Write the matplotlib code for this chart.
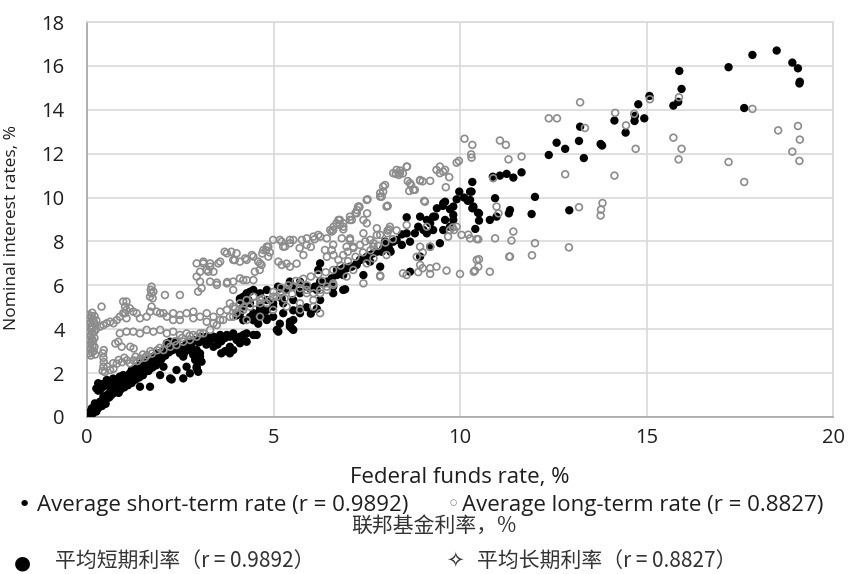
import numpy as np
import matplotlib
matplotlib.use('Agg')
import matplotlib.pyplot as plt

# (federal funds rate, average short-term rate)
short_rate = [
    (0.05, 0.1), (0.08, 0.17), (0.1, 0.25), (0.13, 0.4), (0.17, 0.32), (0.21, 0.62), (0.26, 0.47), (0.3, 0.55),
    (0.35, 0.7), (0.44, 0.93), (0.53, 1.0), (0.62, 1.15), (0.71, 1.08), (0.8, 1.31), (0.88, 1.38), (0.97, 1.54),
    (1.06, 1.69), (1.15, 1.61), (1.24, 1.84), (1.33, 1.99), (1.42, 2.14), (1.51, 2.22), (1.6, 2.37), (1.69, 2.45),
    (1.78, 2.6), (1.87, 2.75), (1.96, 2.9), (2.05, 3.05), (2.14, 3.2), (2.23, 3.28), (2.31, 3.36), (2.4, 3.43),
    (0.05, 0.2), (0.1, 0.1), (0.15, 0.15), (0.2, 0.3), (0.25, 0.25), (0.3, 0.4), (0.4, 0.5), (0.45, 0.75),
    (0.5, 0.6), (0.55, 0.85), (0.6, 0.9), (0.65, 1.0), (0.75, 1.2), (0.85, 1.1), (0.9, 1.25), (1.0, 1.35),
    (1.1, 1.45), (1.2, 1.55), (1.3, 1.7), (1.4, 1.8), (1.5, 1.9), (1.55, 2.05), (1.65, 2.1), (1.75, 2.25),
    (1.85, 2.35), (1.95, 2.5), (2.0, 2.65), (2.1, 2.8), (2.2, 2.95), (2.3, 3.05), (0.25, 1.3), (0.3, 1.2),
    (0.4, 1.5), (0.5, 1.45), (0.6, 1.6), (0.7, 1.75), (0.9, 1.7), (1.0, 1.8), (1.1, 1.9), (1.25, 2.05),
    (1.4, 2.3), (1.45, 2.45), (1.7, 2.55), (1.95, 2.75), (2.2, 3.05),
    (0.3, 1.54), (0.44, 1.38), (0.35, 1.23), (0.62, 1.46), (0.71, 1.61), (0.53, 1.69), (0.8, 1.69), (0.88, 1.84),
    (0.97, 1.91), (1.15, 1.99), (1.2, 2.14), (1.33, 2.22), (1.51, 2.52), (1.6, 2.6), (1.69, 2.67), (1.78, 2.75),
    (1.87, 2.9), (2.05, 2.98), (2.14, 3.13), (2.31, 3.2),
    (1.42, 1.38), (1.69, 1.38), (1.96, 1.91), (2.23, 1.76), (2.58, 1.76), (2.94, 2.29), (2.98, 2.06), (2.76, 1.99),
    (3.07, 2.52), (2.67, 2.29), (2.4, 2.14), (2.27, 1.71), (1.87, 2.45), (2.05, 2.29), (2.94, 2.22), (3.03, 2.75),
    (2.14, 3.36), (2.23, 3.43), (2.49, 3.2), (2.67, 3.36), (2.85, 3.51), (3.03, 3.59), (3.21, 3.66), (3.39, 3.59),
    (3.57, 3.66), (3.75, 3.74), (3.92, 3.81), (4.1, 3.66), (4.01, 3.51), (4.28, 3.81), (4.46, 3.74), (3.83, 3.2),
    (3.92, 3.05), (2.94, 3.05), (3.03, 2.9), (2.85, 2.83), (2.9, 2.6), (2.49, 2.9), (2.58, 2.75), (3.39, 3.2),
    (3.83, 2.9), (4.28, 3.43), (4.1, 3.36), (5.09, 3.97), (5.53, 3.97), (5.44, 4.12), (5.44, 4.34), (5.53, 4.42),
    (2.5, 3.0), (2.6, 3.1), (2.7, 3.2), (2.8, 3.3), (3.0, 3.4), (3.1, 3.5), (3.3, 3.5), (3.5, 3.55),
    (3.7, 3.6), (3.9, 3.7), (4.2, 3.75), (2.6, 2.9), (2.8, 3.0), (3.2, 3.3), (3.6, 3.45), (4.0, 3.6),
    (3.5, 3.3), (3.7, 3.0), (3.6, 2.9),
    (3.03, 3.66), (3.25, 3.58), (3.39, 3.66), (3.57, 3.74), (3.83, 3.66), (4.19, 3.66), (4.55, 3.74), (4.01, 4.63),
    (4.1, 4.71), (4.19, 4.41), (4.37, 4.56), (4.46, 4.41), (4.59, 4.25), (4.68, 4.71), (4.72, 4.87), (4.82, 5.33),
    (4.1, 5.4), (4.19, 5.33), (4.24, 5.48), (4.28, 5.56), (4.33, 5.33), (4.37, 5.71), (4.28, 5.64), (4.46, 5.79),
    (4.1, 5.33), (4.19, 5.03), (4.37, 5.18), (4.64, 5.03), (4.82, 4.88), (4.99, 5.18), (4.46, 4.73), (4.64, 4.57),
    (4.82, 4.5), (4.99, 4.57), (4.19, 5.48), (4.64, 5.64), (4.82, 5.79), (4.99, 5.03), (5.26, 5.18), (5.53, 5.33),
    (5.71, 5.64), (5.89, 5.94), (6.16, 5.79), (6.34, 6.09), (6.6, 5.94), (6.87, 5.79), (6.6, 5.64), (6.25, 5.33),
    (5.71, 4.73), (5.26, 4.73), (4.82, 4.42), (4.64, 4.88), (5.13, 3.89), (5.49, 4.04), (5.44, 4.2), (5.17, 4.25),
    (6.0, 4.71), (6.16, 4.93), (5.89, 5.0), (5.71, 4.93), (5.53, 4.86),
    (5.71, 6.17), (5.53, 5.94), (5.44, 6.17), (5.35, 5.79), (5.17, 5.86), (5.12, 5.94), (5.22, 5.4), (6.56, 6.32),
    (6.43, 6.17), (6.25, 6.17), (6.11, 5.94), (5.98, 5.86), (5.71, 5.71), (6.25, 7.0), (6.2, 6.7), (6.92, 5.82),
    (7.1, 6.85), (6.96, 6.78), (6.83, 6.7), (6.74, 6.62), (6.7, 6.47), (6.78, 6.7), (6.87, 6.47), (7.86, 6.85),
    (7.41, 6.47), (7.68, 7.46), (7.5, 7.3), (7.59, 7.08), (7.32, 7.15), (7.23, 7.0), (8.08, 7.76), (7.9, 7.53),
    (8.12, 7.6), (8.21, 7.99), (7.99, 7.99), (6.7, 6.7), (6.87, 6.78), (7.05, 6.85),
    (7.23, 6.93), (7.32, 7.16), (7.45, 7.23), (7.59, 7.38), (7.77, 7.53), (7.94, 7.69), (8.08, 7.84), (8.14, 7.53),
    (8.3, 8.07), (8.44, 7.84), (8.66, 7.99), (8.44, 8.32), (8.57, 8.37), (8.79, 8.37), (8.88, 8.67), (8.57, 9.1),
    (9.11, 8.98), (9.2, 8.83), (9.28, 8.52), (9.55, 8.52), (9.33, 9.13), (9.6, 8.98), (9.82, 9.21), (9.73, 9.47),
    (9.38, 9.51), (9.54, 9.62), (9.6, 9.81), (9.91, 9.92), (10.11, 10.0), (10.21, 9.85), (9.98, 10.27), (10.27, 10.27),
    (10.31, 10.27), (10.33, 10.71), (10.27, 9.89), (10.36, 9.59), (10.33, 9.51), (10.48, 9.31), (10.51, 9.28),
    (10.51, 8.95), (10.8, 8.98), (10.98, 9.13), (10.94, 9.97), (10.41, 8.57), (8.93, 7.31), (8.66, 6.62),
    (8.93, 9.13), (9.02, 8.52), (9.11, 8.37), (9.2, 7.76), (9.46, 7.92), (9.73, 8.67), (9.82, 8.98), (9.82, 9.59),
    (9.55, 9.74), (9.28, 9.13), (10.88, 10.95), (11.07, 11.0), (11.25, 11.08), (11.43, 10.91), (11.65, 11.15),
    (11.34, 9.43), (11.31, 9.28), (11.92, 9.25), (12.01, 10.03), (12.93, 9.42),
    (12.38, 11.94), (12.59, 12.5), (12.82, 12.22), (13.19, 12.58), (13.22, 13.23), (13.32, 11.8), (13.77, 12.44),
    (13.81, 12.37), (14.14, 13.51), (14.44, 12.96), (14.68, 13.49), (14.69, 13.72), (14.94, 13.61), (14.78, 14.25),
    (15.08, 14.63), (15.72, 14.19), (15.85, 14.36), (15.88, 15.77), (15.94, 14.95), (17.2, 15.94), (17.84, 16.5),
    (18.49, 16.7), (18.91, 16.15), (19.06, 15.89), (19.11, 15.28), (19.1, 15.2), (17.62, 14.08),
]

# (federal funds rate, average long-term rate)
long_rate = [
    (0.1, 2.8), (0.13, 2.95), (0.1, 3.1), (0.15, 3.25), (0.12, 3.4), (0.14, 3.55), (0.1, 3.7), (0.15, 3.85),
    (0.12, 4.0), (0.14, 4.15), (0.1, 4.3), (0.15, 4.45), (0.12, 4.6), (0.14, 4.75), (0.08, 3.3), (0.08, 4.1),
    (0.2, 3.9), (0.22, 4.2), (0.25, 4.4), (0.18, 3.0), (0.2, 4.6), (0.06, 2.9), (0.06, 3.5), (0.06, 3.9),
    (0.06, 4.5), (0.2, 3.2), (0.2, 3.6), (0.24, 4.0), (0.18, 4.35), (0.16, 3.45), (0.05, 4.65), (0.22, 2.85),
    (0.42, 2.1), (0.44, 2.3), (0.45, 2.5), (0.44, 2.7), (0.43, 2.9), (0.45, 3.05), (0.48, 2.05), (0.39, 5.03),
    (0.62, 2.14), (0.71, 2.2), (0.8, 2.43), (0.94, 2.5), (1.07, 2.58), (1.25, 2.58), (1.43, 2.66), (1.61, 2.81),
    (1.74, 2.89), (1.88, 3.04), (2.05, 3.05), (2.23, 3.2), (2.4, 3.28), (2.58, 3.43), (2.76, 3.51), (2.94, 3.66),
    (3.12, 3.81), (3.3, 3.97), (3.48, 4.19), (3.65, 4.42), (3.83, 4.57), (4.01, 4.73), (4.19, 4.88), (4.37, 5.03),
    (4.64, 5.18), (4.91, 5.33), (5.09, 5.48), (0.93, 3.2), (1.16, 3.2), (1.25, 3.12), (0.76, 3.35), (0.84, 3.43),
    (1.0, 2.7), (1.3, 2.75), (1.55, 2.7), (0.55, 2.3), (0.7, 2.45), (0.85, 2.6), (1.15, 2.45), (1.35, 2.55),
    (1.5, 2.85), (1.7, 3.0), (1.95, 3.15), (2.15, 3.35), (2.35, 3.45), (2.55, 3.6), (2.75, 3.7),
    (0.35, 4.12), (0.44, 4.19), (0.53, 4.27), (0.62, 4.34), (0.71, 4.27), (0.8, 4.42), (0.88, 4.57), (0.97, 4.73),
    (1.02, 5.03), (0.97, 5.26), (1.06, 4.88), (1.15, 4.95), (1.24, 4.8), (1.33, 4.73), (1.42, 4.5), (1.6, 4.57),
    (1.69, 4.8), (1.73, 5.03), (1.73, 5.64), (1.71, 5.79), (1.76, 5.41), (2.09, 5.56), (2.49, 5.56), (1.96, 4.73),
    (2.14, 4.57), (2.31, 4.42), (2.49, 4.65), (2.67, 4.73), (2.85, 4.5), (3.03, 4.57), (3.21, 4.34), (1.06, 5.26),
    (1.02, 4.73), (1.06, 4.5), (1.87, 4.8), (2.05, 4.73), (2.31, 4.73), (2.49, 4.42), (2.85, 4.8), (1.78, 5.71),
    (1.69, 5.48), (1.73, 5.94),
    (0.88, 3.81), (1.06, 3.89), (1.24, 3.89), (1.42, 3.81), (1.6, 3.97), (1.78, 3.89), (1.96, 3.97), (2.14, 3.81),
    (2.31, 3.89), (2.49, 3.74), (2.67, 3.81), (2.85, 3.74), (3.03, 3.81),
    (3.21, 4.73), (3.39, 4.57), (3.57, 4.8), (3.75, 4.88), (3.92, 5.03), (4.1, 5.18), (4.28, 5.33), (4.46, 5.48),
    (4.64, 5.33), (4.82, 5.18), (4.99, 5.48), (5.17, 5.64), (5.35, 5.79), (5.53, 5.94), (5.71, 6.09), (5.89, 5.64),
    (6.07, 5.33), (6.25, 5.64), (6.43, 5.79), (6.6, 6.09), (3.39, 4.27), (3.57, 4.42), (3.92, 4.57), (4.28, 4.42),
    (4.64, 4.57), (4.99, 4.88), (5.35, 5.03), (5.71, 5.18), (6.07, 5.03), (6.25, 4.73), (5.71, 4.88), (3.83, 5.18),
    (3.97, 4.93), (5.71, 5.87), (5.89, 5.79), (6.07, 5.64), (6.25, 5.79), (6.43, 5.94), (6.6, 6.02),
    (5.0, 5.7), (5.2, 5.9), (5.4, 6.0), (5.6, 6.2), (5.8, 6.3), (6.0, 6.4), (6.2, 6.5), (6.4, 6.6),
    (6.6, 6.7), (5.3, 5.4), (5.5, 5.6), (5.9, 6.0), (6.3, 6.2), (6.8, 6.9), (7.0, 7.1), (7.2, 7.3),
    (7.4, 7.5), (7.6, 7.6), (7.8, 7.8), (8.0, 7.95), (8.2, 8.1), (4.5, 5.2), (4.7, 5.4), (4.2, 5.0),
    (2.94, 7.0), (3.12, 7.0), (3.3, 6.85), (3.03, 6.62), (3.21, 6.7), (2.94, 6.4), (3.03, 6.17), (3.07, 5.87),
    (2.98, 5.71), (3.52, 7.0), (3.3, 6.17), (3.48, 6.02), (3.75, 6.09), (3.92, 5.79), (3.92, 6.17), (4.1, 6.32),
    (4.28, 6.24), (4.46, 6.24), (3.75, 7.46), (4.01, 7.46), (3.92, 7.16), (4.28, 7.16), (4.46, 7.31), (4.64, 7.0),
    (4.73, 7.61), (4.82, 7.76), (4.86, 7.31), (4.99, 8.07), (5.17, 8.07), (5.26, 7.76), (5.44, 7.92), (5.53, 8.07),
    (5.76, 8.07), (5.89, 8.14), (6.07, 8.22), (6.25, 8.22), (6.43, 8.14), (6.6, 8.52), (6.69, 8.83), (6.78, 8.98),
    (6.87, 8.67), (7.05, 8.98), (7.23, 9.28), (7.27, 9.59), (7.5, 9.89), (7.86, 10.04), (7.86, 10.2), (7.94, 10.5),
    (8.03, 9.59), (8.21, 11.11), (8.3, 11.26), (8.39, 11.11), (8.57, 11.41), (8.66, 10.65), (8.75, 10.35),
    (8.93, 10.8), (9.06, 9.81),
    (3.25, 6.62), (3.39, 6.62), (3.48, 6.12), (3.76, 6.15), (4.19, 6.24), (3.57, 7.08), (3.3, 7.0), (3.12, 7.08),
    (4.42, 7.38), (4.24, 7.23), (3.87, 7.53), (3.69, 7.53), (3.96, 7.15), (4.1, 7.08), (4.59, 7.08), (4.68, 6.93),
    (4.63, 6.7), (4.5, 6.62), (5.13, 7.08), (5.22, 6.93), (5.35, 6.99), (5.62, 6.99), (5.44, 6.85), (5.8, 7.38),
    (6.38, 7.61), (6.56, 7.61), (6.43, 7.3), (6.61, 7.38), (6.83, 8.14), (7.05, 8.07), (6.96, 7.76), (7.14, 7.7),
    (7.32, 7.84), (7.46, 8.0), (7.68, 7.92), (7.86, 8.3), (7.77, 8.6), (8.05, 8.37), (6.2, 8.3), (6.1, 8.1),
    (5.89, 7.84), (6.0, 7.75), (5.7, 7.7), (5.44, 8.07), (5.22, 7.99), (5.31, 7.77), (4.86, 7.76), (4.8, 7.6),
    (4.7, 7.45), (4.9, 7.5), (7.3, 9.59), (8.05, 9.62), (7.1, 8.98), (7.5, 8.83), (6.74, 8.98), (6.78, 8.75),
    (6.87, 8.55), (6.56, 8.45), (7.86, 6.4), (7.41, 6.09), (6.96, 6.4), (7.14, 6.7), (7.5, 7.0), (7.68, 7.23),
    (8.03, 7.38),
    (10.12, 12.68), (10.33, 12.4), (11.07, 12.6), (11.23, 12.4), (10.3, 11.97), (10.31, 11.82), (9.97, 11.67),
    (9.91, 11.59), (11.3, 11.74), (11.65, 11.87), (10.89, 10.88), (8.58, 11.41), (8.39, 11.23), (8.28, 11.08),
    (8.47, 11.1), (8.36, 11.03), (9.46, 11.41), (9.37, 11.26), (9.55, 11.18), (9.46, 11.11), (9.6, 11.26),
    (9.71, 10.93), (9.62, 10.47), (8.93, 10.77), (9.0, 10.74), (9.2, 10.76), (8.6, 10.75), (8.69, 10.57),
    (8.64, 10.3), (8.79, 10.35), (7.99, 10.57), (7.94, 10.27), (7.9, 10.04), (7.52, 9.92), (8.06, 9.62),
    (9.04, 9.85), (7.3, 9.56), (7.24, 9.43), (7.2, 9.3), (7.05, 9.13), (10.98, 9.59), (11.03, 9.28),
    (11.43, 8.45), (11.38, 8.04), (11.34, 7.31), (10.94, 8.14), (10.45, 8.11), (10.27, 8.14), (10.04, 8.3),
    (9.84, 8.52), (9.8, 8.64), (9.11, 8.67), (8.57, 8.75), (8.12, 8.67), (8.3, 8.5), (10.45, 7.16), (10.49, 6.85),
    (10.8, 6.62), (10.37, 6.62), (10.0, 6.52), (9.64, 6.67), (9.37, 6.85), (9.2, 6.78), (9.0, 6.78), (8.93, 6.93),
    (8.88, 6.6), (9.2, 6.52), (8.57, 6.47), (8.47, 6.55), (7.86, 6.45), (7.51, 9.28), (7.41, 8.98), (6.87, 8.83),
    (6.61, 8.67), (6.52, 8.52), (7.05, 8.14), (7.14, 7.76), (6.99, 7.53), (6.87, 7.38), (6.74, 7.16), (6.6, 7.85),
    (7.41, 8.37), (7.59, 8.07), (7.68, 7.76), (7.77, 8.29), (8.06, 8.5), (8.1, 8.55), (8.93, 7.76), (8.84, 7.3),
    (9.0, 7.5), (9.2, 7.76), (9.73, 8.52), (9.68, 8.22), (9.91, 8.67), (10.51, 7.19), (10.4, 6.67), (10.22, 8.31),
    (10.49, 8.1),
    (13.22, 14.34), (12.38, 13.61), (12.6, 13.61), (14.16, 13.86), (14.45, 13.29), (13.35, 13.17), (14.67, 13.82),
    (15.09, 14.48), (15.87, 14.57), (17.84, 14.04), (18.53, 13.06), (19.06, 13.26), (19.11, 12.64), (18.91, 12.09),
    (19.1, 11.67), (17.2, 11.62), (17.62, 10.71), (15.72, 12.73), (15.94, 12.22), (15.86, 11.74), (14.71, 12.22),
    (12.82, 11.06), (14.14, 11.0), (13.19, 9.56), (13.82, 9.75), (13.78, 9.45), (13.77, 9.18), (12.01, 7.92),
    (12.92, 7.73), (11.32, 7.31), (11.93, 7.37),
]

x_ticks = [0, 5, 10, 15, 20]
y_ticks = [0, 2, 4, 6, 8, 10, 12, 14, 16, 18]

W, H = 848, 574
fig = plt.figure(figsize=(W / 100, H / 100), dpi=100)
plt.rcParams['font.family'] = ['Open Sans', 'DejaVu Sans']
txt_col = '#1e1e1e'

ax = fig.add_axes([87 / W, 1 - 417 / H, (833 - 87) / W, (417 - 22) / H])

s = np.array(short_rate)
l = np.array(long_rate)
ax.scatter(s[:, 0], s[:, 1], s=36, color='black', edgecolors='none', zorder=3)
ax.scatter(l[:, 0], l[:, 1], s=24, facecolors='none', edgecolors='#8c8c8c', linewidths=1.2, zorder=4)

ax.set_xlim(0, 20)
ax.set_ylim(0, 18)
ax.set_xticks(x_ticks)
ax.set_yticks(y_ticks)
ax.grid(True, color='#d9d9d9', linewidth=1.2, zorder=0)
ax.set_axisbelow(True)
for side in ['top', 'right']:
    ax.spines[side].set_color('#d9d9d9')
    ax.spines[side].set_linewidth(1.2)
for side in ['left', 'bottom']:
    ax.spines[side].set_color('#a6a6a6')
    ax.spines[side].set_linewidth(1.2)
ax.tick_params(axis='both', length=0, labelsize=14.5, colors=txt_col)
ax.tick_params(axis='y', pad=16)
ax.tick_params(axis='x', pad=8)

ax.set_ylabel('Nominal interest rates, %', fontsize=12.5, color=txt_col)
ax.yaxis.set_label_coords(-67 / (833 - 87), 0.48)

def fy(py):
    return 1 - py / H

fs = 16
fig.text(460 / W, fy(483), 'Federal funds rate, %', fontsize=fs, ha='center', va='baseline', color=txt_col)
fig.text(18 / W, fy(511), '\u2022', fontsize=fs, va='baseline', color='black', family=['DejaVu Sans'])
fig.text(37 / W, fy(511), 'Average short-term rate (r = 0.9892)', fontsize=fs, va='baseline', color=txt_col)
fig.text(447 / W, fy(511), '\u25e6', fontsize=fs, va='baseline', color='#8c8c8c', family=['DejaVu Sans'])
fig.text(462 / W, fy(511), 'Average long-term rate (r = 0.8827)', fontsize=fs, va='baseline', color=txt_col)

cjk = ['Noto Sans CJK SC', 'DejaVu Sans']
fig.text(434 / W, fy(532), '联邦基金利率，%', fontsize=15, ha='center', va='baseline', color='#333333', family=cjk)
fig.text(22 / W, fy(568), '\u25cf', fontsize=14, ha='center', va='baseline', color='black', family=['DejaVu Sans'])
fig.text(55 / W, fy(568), '平均短期利率（r = 0.9892）', fontsize=15, va='baseline', color='#333333', family=cjk)
fig.text(455 / W, fy(568), '\u2727', fontsize=15, ha='center', va='baseline', color='#333333', family=['DejaVu Sans'])
fig.text(477 / W, fy(568), '平均长期利率（r = 0.8827）', fontsize=15, va='baseline', color='#333333', family=cjk)

fig.savefig('out.png', dpi=100)
